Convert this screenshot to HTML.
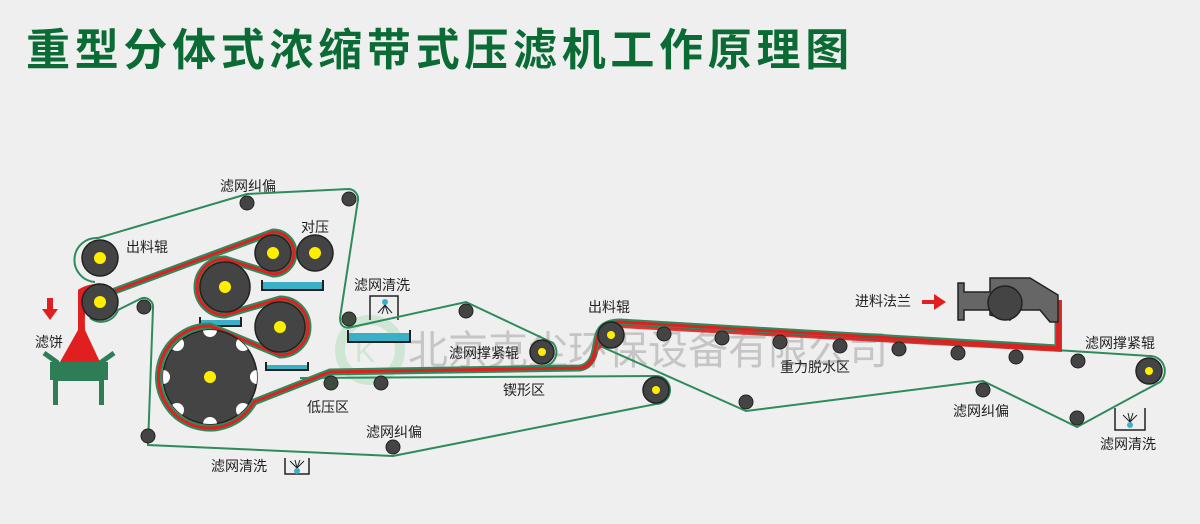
<!DOCTYPE html>
<html><head><meta charset="utf-8"><style>
html,body{margin:0;padding:0;background:#efefef;}
svg{display:block;}
text{font-family:"Liberation Sans","Noto Sans CJK SC",sans-serif;}
</style></head><body>
<svg width="1200" height="524" viewBox="0 0 1200 524" xmlns="http://www.w3.org/2000/svg">
<defs><clipPath id="dc"><circle cx="210" cy="377" r="47"/></clipPath></defs>
<rect width="1200" height="524" fill="#efefef"/>
<text x="26" y="65" font-size="44" font-weight="bold" fill="#0b6b35" letter-spacing="4.7" font-family="Liberation Sans, Noto Sans CJK SC, sans-serif">重型分体式浓缩带式压滤机工作原理图</text>

<!-- watermark -->
<circle cx="370" cy="350" r="30" fill="none" stroke="#cfe6d4" stroke-width="10"/>
<text x="355" y="362" font-size="30" fill="#cfe6d4">K</text>
<text x="408" y="364" font-size="40" fill="#b8b8b8" opacity="0.75">北京克尘环保设备有限公司</text>

<!-- trays -->
<g stroke="#222" stroke-width="2" fill="#3ab0c8">
<path d="M262 280 L262 290 L323 290 L323 280" fill="none"/>
<rect x="263" y="282" width="59" height="7" stroke="none"/>
<path d="M200 317 L200 326 L241 326 L241 317" fill="none"/>
<rect x="201" y="320" width="39" height="5" stroke="none"/>
<path d="M266 362 L266 370 L308 370 L308 362" fill="none"/>
<rect x="267" y="365" width="40" height="4" stroke="none"/>
<path d="M348 330 L348 342 L410 342 L410 330" fill="none"/>
<rect x="349" y="333" width="60" height="8" stroke="none"/>
</g>
<!-- wash boxes -->
<g stroke="#222" stroke-width="1.5" fill="none">
<path d="M370 320 L370 296 L398 296 L398 320"/>
<path d="M285 458 L285 474 L309 474 L309 458"/>
<path d="M1115 408 L1115 430 L1145 430 L1145 408"/>
</g>
<circle cx="385" cy="302" r="3" fill="#3ab0c8"/>
<path d="M385 305 L378 313 M385 305 L382 314 M385 305 L388 314 M385 305 L392 313" stroke="#222" stroke-width="1"/>
<circle cx="297" cy="471" r="3" fill="#3ab0c8"/>
<path d="M297 468 L290 461 M297 468 L295 460 M297 468 L300 460 M297 468 L304 461" stroke="#222" stroke-width="1"/>
<circle cx="1130" cy="425" r="3" fill="#3ab0c8"/>
<path d="M1130 422 L1123 415 M1130 422 L1128 413 M1130 422 L1133 413 M1130 422 L1137 415" stroke="#222" stroke-width="1"/>

<!-- belts thin -->
<g fill="none" stroke="#2e8b5e" stroke-width="2">
<path d="M95 282 A20 20 0 0 1 98 238 L247 194 L349 189 A10 10 0 0 1 358 200 L340 318 Q340 330 352 327 L466 302 L553 343 A14 14 0 0 1 540 366 L330 372"/>
<path d="M90 318 A18 18 0 0 0 118 310 L140 299 A9 9 0 0 1 153 308 L148 445 L393 456 L656 404 A14 14 0 0 0 656 376 L300 378"/>
<path d="M600 346 L746 411 L983 381 L1077 427 L1160 382 A15 15 0 0 0 1149 356 L620 322"/>
</g>
<!-- sandwich -->
<path d="M112 292 L273 232 A21 21 0 0 1 273 274 L225 259 A28 28 0 0 0 225 315 L280 299 A28 28 0 0 1 280 355 L210 326 A51 51 0 1 0 254 402 L330 372 L580 368 Q592 366 595 350 L598 335 Q602 322 620 322 L1058 348 L1058 300" fill="none" stroke="#2e8b5e" stroke-width="7"/>
<path d="M112 292 L273 232 A21 21 0 0 1 273 274 L225 259 A28 28 0 0 0 225 315 L280 299 A28 28 0 0 1 280 355 L210 326 A51 51 0 1 0 254 402 L330 372 L580 368 Q592 366 595 350 L598 335 Q602 322 620 322 L1058 348 L1058 300" fill="none" stroke="#e02020" stroke-width="3"/>
<path d="M580 370 Q595 368 598 350 L601 335 Q605 325 620 325 L1056 349 L1056 300 L1062 300 L1062 352 L620 328" fill="#e02020" opacity="0.9"/>

<!-- hopper -->
<path d="M78 290 Q84 285 100 283 L90 290 Q84 300 85 330 L100 362 L60 362 L78 330 Z" fill="#e02020"/>
<path d="M50 362 L108 362 L108 380 L104 380 L104 405 L99 405 L99 381 L58 381 L58 405 L53 405 L53 380 L50 380 Z" fill="#2e7d56"/>
<path d="M44 353 L58 363 M114 353 L100 363" stroke="#2e7d56" stroke-width="5"/>
<path d="M47 298 L53 298 L53 309 L58 309 L50 320 L42 309 L47 309 Z" fill="#e02020"/>
<!-- feed flange -->
<path d="M958 283 L964 283 L964 292 L990 292 L990 278 L1030 278 L1058 295 L1058 322 L1050 322 L1040 310 L1020 310 L1010 320 L990 315 L990 310 L964 310 L964 320 L958 320 Z" fill="#666" stroke="#222" stroke-width="1.5"/>
<circle cx="1005" cy="303" r="17" fill="#444" stroke="#222" stroke-width="1.5"/>
<path d="M922 300 L934 300 L934 294 L946 302 L934 310 L934 304 L922 304 Z" fill="#e02020"/>

<!-- rollers -->
<g fill="#444" stroke="#222" stroke-width="1.5">
<circle cx="100" cy="258" r="18"/><circle cx="100" cy="302" r="18"/>
<circle cx="273" cy="253" r="18"/><circle cx="315" cy="253" r="18"/>
<circle cx="225" cy="287" r="25"/><circle cx="280" cy="327" r="25"/>
<circle cx="210" cy="377" r="47"/>
<circle cx="542" cy="352" r="12"/><circle cx="611" cy="335" r="13"/>
<circle cx="656" cy="390" r="13"/><circle cx="1149" cy="371" r="13"/>
</g>
<g fill="#fff" clip-path="url(#dc)">
<circle cx="210" cy="330" r="7"/><circle cx="210" cy="424" r="7"/><circle cx="163" cy="377" r="7"/><circle cx="257" cy="377" r="7"/>
<circle cx="177" cy="344" r="7"/><circle cx="243" cy="344" r="7"/><circle cx="177" cy="410" r="7"/><circle cx="243" cy="410" r="7"/>
</g>
<g fill="#ffee00">
<circle cx="100" cy="258" r="6"/><circle cx="100" cy="302" r="6"/>
<circle cx="273" cy="253" r="6"/><circle cx="315" cy="253" r="6"/>
<circle cx="225" cy="287" r="6"/><circle cx="280" cy="327" r="6"/><circle cx="210" cy="377" r="6"/>
<circle cx="542" cy="352" r="4"/><circle cx="611" cy="335" r="4"/><circle cx="656" cy="390" r="4"/><circle cx="1149" cy="371" r="4"/>
</g>
<g fill="#444" stroke="#222" stroke-width="1">
<circle cx="144" cy="307" r="7"/><circle cx="247" cy="203" r="7"/><circle cx="349" cy="199" r="7"/>
<circle cx="349" cy="319" r="7" fill="#3f4a3f"/><circle cx="466" cy="311" r="7"/>
<circle cx="331" cy="383" r="7" fill="#3f4a3f"/><circle cx="381" cy="383" r="7"/>
<circle cx="148" cy="436" r="7"/><circle cx="393" cy="447" r="7"/>
<circle cx="664" cy="334" r="7"/><circle cx="722" cy="338" r="7"/><circle cx="780" cy="342" r="7"/>
<circle cx="840" cy="346" r="7"/><circle cx="899" cy="349" r="7"/><circle cx="958" cy="353" r="7"/>
<circle cx="1016" cy="357" r="7"/><circle cx="1078" cy="361" r="7"/>
<circle cx="746" cy="402" r="7"/><circle cx="983" cy="390" r="7"/><circle cx="1077" cy="418" r="7"/>
</g>

<!-- labels -->
<g font-size="14" fill="#222">
<text x="220" y="191">滤网纠偏</text>
<text x="126" y="252">出料辊</text>
<text x="301" y="232">对压</text>
<text x="354" y="290">滤网清洗</text>
<text x="35" y="347">滤饼</text>
<text x="449" y="358">滤网撑紧辊</text>
<text x="307" y="412">低压区</text>
<text x="366" y="437">滤网纠偏</text>
<text x="211" y="471">滤网清洗</text>
<text x="588" y="312">出料辊</text>
<text x="503" y="395">锲形区</text>
<text x="780" y="372">重力脱水区</text>
<text x="855" y="306">进料法兰</text>
<text x="1085" y="348">滤网撑紧辊</text>
<text x="953" y="416">滤网纠偏</text>
<text x="1100" y="449">滤网清洗</text>
</g>
</svg>
</body></html>
